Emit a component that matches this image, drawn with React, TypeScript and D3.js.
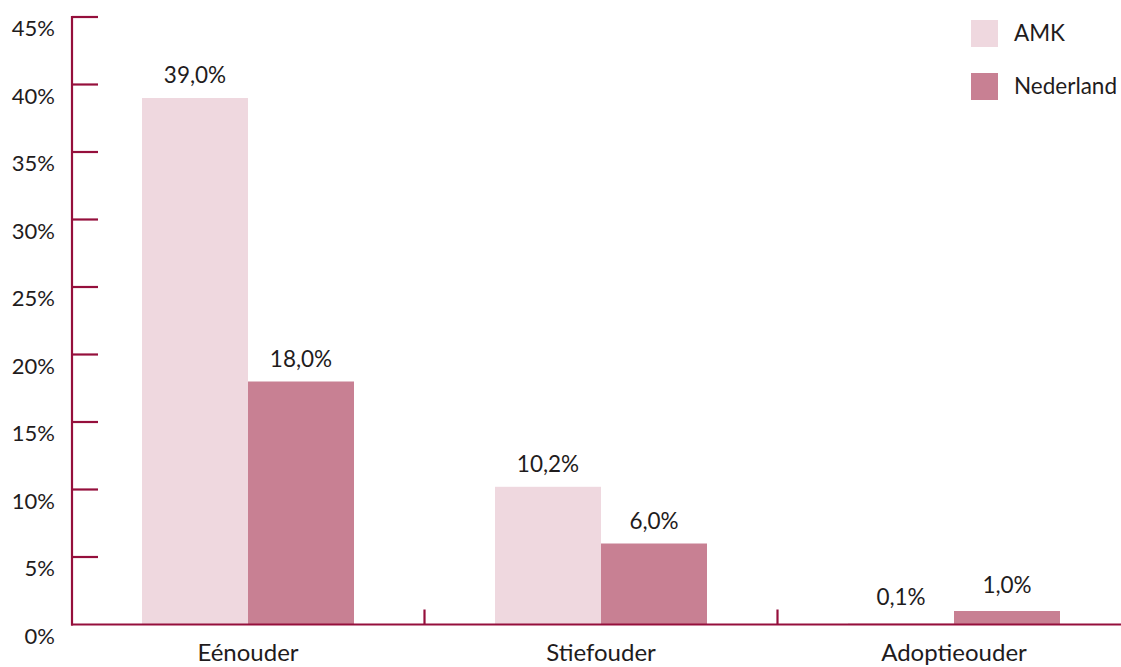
import React from "react";
import * as d3 from "d3";

const categories = ["Eénouder", "Stiefouder", "Adoptieouder"];
const seriesNames = ["AMK", "Nederland"];
const amkValues = [39.0, 10.2, 0.1];
const nederlandValues = [18.0, 6.0, 1.0];
const yTicks = [0, 5, 10, 15, 20, 25, 30, 35, 40, 45];
const colors = ["#efd8df", "#c88093"];

const W = 1121;
const H = 667;
const axisColor = "#950f3c";
const textColor = "#1f1c1d";
const font = "Lato, 'Open Sans', sans-serif";

export default function App() {
  const x0 = d3.scaleBand<string>().domain(categories).range([71.5, 1130.5]).padding(0);
  const x1 = d3
    .scaleBand<string>()
    .domain(seriesNames)
    .range([70.5, x0.bandwidth() - 70.5])
    .padding(0);
  const y = d3.scaleLinear().domain([0, 45]).range([624.5, 17]);
  const fmt = (v: number) => v.toFixed(1).replace(".", ",") + "%";
  const series = [amkValues, nederlandValues];

  return (
    <svg
      width={W}
      height={H}
      style={{ position: "absolute", left: 0, top: 0 }}
      fontFamily={font}
    >
      <rect width={W} height={H} fill="#fff" />
      {categories.map((c, i) =>
        seriesNames.map((s, j) => {
          const v = series[j][i];
          const bx = (x0(c) as number) + (x1(s) as number);
          return (
            <g key={c + s}>
              <rect
                x={bx}
                y={y(v)}
                width={x1.bandwidth()}
                height={y(0) - y(v)}
                fill={colors[j]}
              />
              <text
                x={bx + x1.bandwidth() / 2}
                y={y(v) - (v < 2 ? 18 : 15)}
                textAnchor="middle"
                fontSize={22.5}
                fill={textColor}
              >
                {fmt(v)}
              </text>
            </g>
          );
        })
      )}
      {/* y axis */}
      <line x1={72} x2={72} y1={y(45) - 1} y2={y(0) + 1} stroke={axisColor} strokeWidth={2.2} />
      {yTicks.map((t) => (
        <g key={t}>
          {t > 0 && (
            <line x1={72} x2={98} y1={y(t)} y2={y(t)} stroke={axisColor} strokeWidth={2.2} />
          )}
          <text x={55} y={y(t) + 19} textAnchor="end" fontSize={22} fill={textColor}>
            {t}%
          </text>
        </g>
      ))}
      {/* x axis */}
      <line x1={71} x2={W} y1={y(0)} y2={y(0)} stroke={axisColor} strokeWidth={2.2} />
      {categories.slice(1).map((c) => (
        <line
          key={c}
          x1={x0(c) as number}
          x2={x0(c) as number}
          y1={y(0)}
          y2={y(0) - 15}
          stroke={axisColor}
          strokeWidth={2.2}
        />
      ))}
      {categories.map((c) => (
        <text
          key={c}
          x={(x0(c) as number) + x0.bandwidth() / 2}
          y={661}
          textAnchor="middle"
          fontSize={24}
          fill={textColor}
        >
          {c}
        </text>
      ))}
      {/* legend */}
      {seriesNames.map((s, j) => (
        <g key={s} transform={`translate(971, ${20 + j * 53})`}>
          <rect width={27} height={27} fill={colors[j]} />
          <text x={43} y={21} fontSize={22.5} fill={textColor}>
            {s}
          </text>
        </g>
      ))}
    </svg>
  );
}
